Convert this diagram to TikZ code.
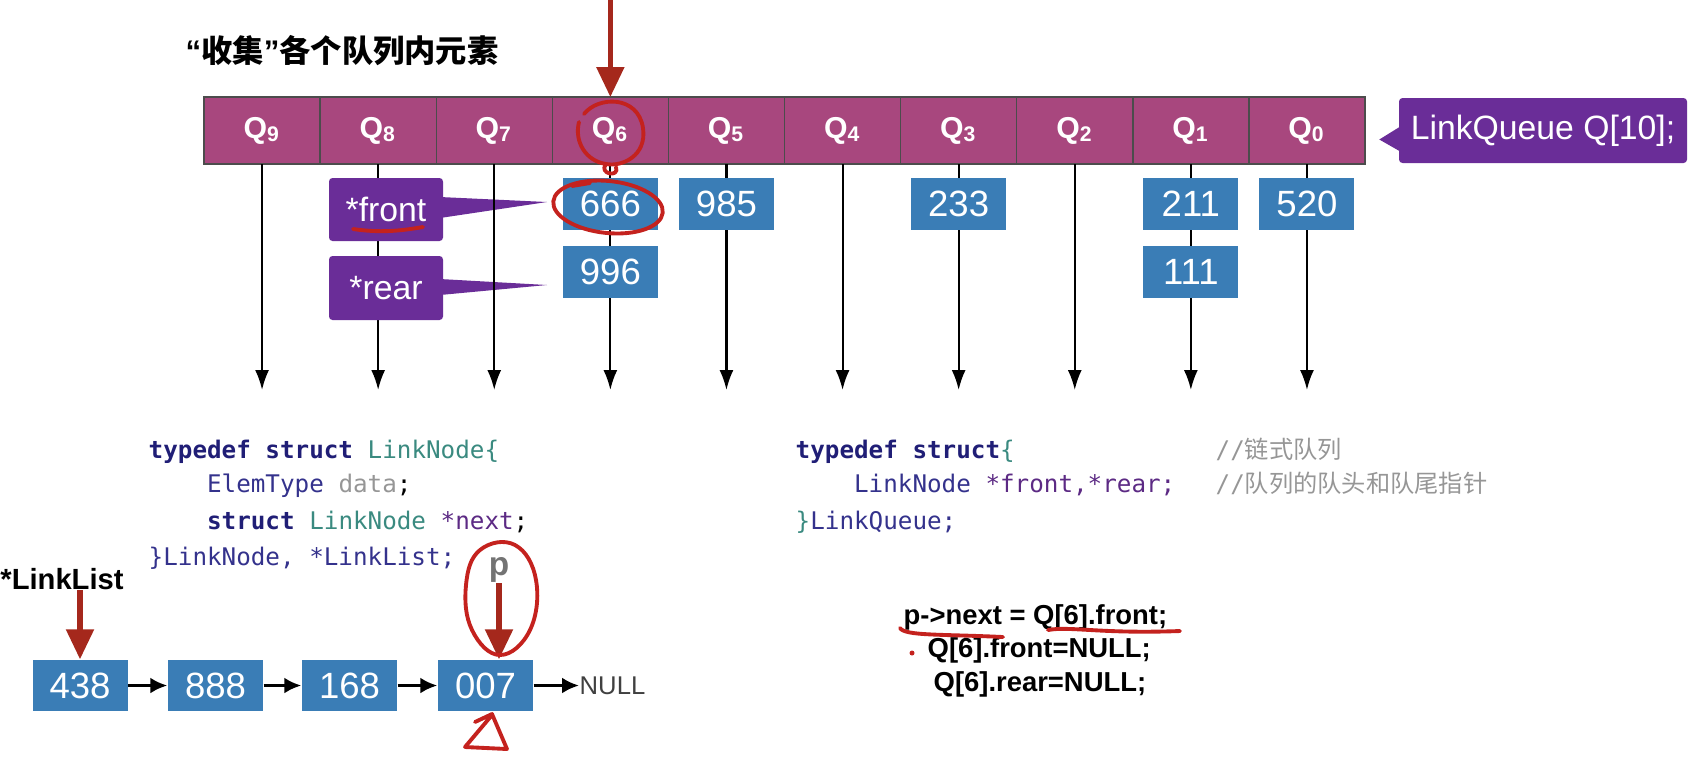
\documentclass[tikz,border=0pt]{standalone}
\usepackage{fontspec}
\setmainfont{Liberation Sans}
\setmonofont{DejaVu Sans Mono}
\newfontfamily\cjk{Noto Sans CJK SC}
\usepackage{tikz}
\usetikzlibrary{arrows.meta, calc}
\definecolor{qmagenta}{RGB}{168,71,126}
\definecolor{qpurple}{RGB}{106,45,152}
\definecolor{qblue}{RGB}{58,125,182}
\definecolor{qred}{RGB}{165,40,28}
\definecolor{penred}{RGB}{196,34,30}
\definecolor{kwnavy}{RGB}{32,30,118}
\definecolor{tyteal}{RGB}{58,138,128}
\definecolor{tyindigo}{RGB}{52,50,140}
\definecolor{varpurple}{RGB}{92,42,132}
\definecolor{cmtgray}{RGB}{150,150,150}
\newcommand{\ind}{\hspace*{2.408em}}

\begin{document}
\begin{tikzpicture}
% Define styles
\tikzset{
  qcell/.style={draw=black!70, fill=qmagenta, text=white, inner sep=0pt, outer sep=0pt,
    minimum width=1.161cm, minimum height=0.67cm, font=\fontsize{8.6}{9}\selectfont\bfseries},
  valbox/.style={fill=qblue, text=white, inner sep=0pt, minimum width=0.95cm,
    minimum height=0.52cm, font=\fontsize{10.4}{11}\selectfont},
  ptrbox/.style={fill=qpurple, text=white, rounded corners=1pt, inner sep=0pt,
    minimum width=1.14cm, minimum height=0.64cm, font=\fontsize{9.6}{10}\selectfont},
  drop/.style={semithick, -{Latex[length=0.2cm, width=0.14cm]}},
  link/.style={line width=0.9pt, -{Latex[length=0.17cm, width=0.16cm]}},
  redarrow/.style={qred, line width=1.5pt, -{Triangle[length=0.3cm, width=0.27cm]}},
  hand/.style={penred, line width=1.1pt, line cap=round, line join=round},
  code/.style={anchor=base west, inner sep=0pt, font=\fontsize{6.9}{8}\selectfont\ttfamily},
  stmt/.style={anchor=west, inner sep=0pt, font=\fontsize{7.8}{8}\selectfont\bfseries},
}

\useasboundingbox (0,0) rectangle (16.9,-7.7);

% Title
\node[anchor=west, inner sep=0pt, font=\fontsize{8.9}{10}\selectfont\bfseries] (title)
  at (1.85,-0.51) {“{\cjk 收集}”{\cjk 各个队列内元素}};

% Queue array, Q9 on the left
\foreach \i in {0,...,9} {
  \pgfmathtruncatemacro\k{9-\i}
  \node[qcell] (q\k) at ({2.04+1.161*(\i+0.5)},-1.305) {Q\textsubscript{\k}};
}
\node[ptrbox, minimum width=2.88cm, minimum height=0.65cm] (lq) at (15.43,-1.305) {LinkQueue Q[10];};
\fill[qpurple] ($(lq.west)+(0.02,0.04)$) -- ($(lq.west)+(-0.19,-0.09)$) -- ($(lq.west)+(0.02,-0.21)$) -- cycle;

% Pointer tails (under the drop lines)
\coordinate (ftip) at (5.47,-2.02);
\coordinate (rtip) at (5.47,-2.85);
\fill[qpurple] (4.40,-1.97) -- (ftip) -- (4.40,-2.18) -- cycle;
\fill[qpurple] (4.40,-2.79) -- (rtip) -- (4.40,-2.95) -- cycle;

% Drop lines
\foreach \k in {0,...,9} {
  \coordinate (e\k) at ($(q\k.south)+(0,-2.26)$);
  \draw[drop] (q\k.south) -- (e\k);
}

% Queue elements
\coordinate (row1) at (0,-2.04);
\coordinate (row2) at (0,-2.715);
\node[valbox] (v666) at (q6 |- row1) {666};
\node[valbox] (v996) at (q6 |- row2) {996};
\node[valbox] (v985) at (q5 |- row1) {985};
\node[valbox] (v233) at (q3 |- row1) {233};
\node[valbox] (v211) at (q1 |- row1) {211};
\node[valbox] (v111) at (q1 |- row2) {111};
\node[valbox] (v520) at (q0 |- row1) {520};

\node[ptrbox, minimum height=0.63cm] (front) at (3.86,-2.095) {*front};
\node[ptrbox] (rear) at (3.86,-2.88) {*rear};

% Code
\node[code] (lc1) at (1.48,-4.58) {\textcolor{kwnavy}{\bfseries typedef struct} \textcolor{tyteal}{LinkNode\{}};
\node[code] (lc2) at (1.48,-4.92) {\ind\textcolor{tyindigo}{ElemType} \textcolor{cmtgray}{data};};
\node[code] (lc3) at (1.48,-5.29) {\ind\textcolor{kwnavy}{\bfseries struct} \textcolor{tyteal}{LinkNode} \textcolor{varpurple}{*next};};
\node[code] (lc4) at (1.48,-5.65) {\textcolor{tyindigo}{\}LinkNode, *LinkList;}};

\node[code] (rc1) at (7.95,-4.58) {\textcolor{kwnavy}{\bfseries typedef struct}\textcolor{tyteal}{\{}};
\node[code] (rc2) at (7.95,-4.92) {\ind\textcolor{tyindigo}{LinkNode} \textcolor{varpurple}{*front,*rear;}};
\node[code] (rc3) at (7.95,-5.29) {\textcolor{tyteal}{\}}\textcolor{tyindigo}{LinkQueue;}};
\node[code, text=cmtgray] (cm1) at (12.15,-4.58) {//{\cjk 链式队列}};
\node[code, text=cmtgray] (cm2) at (12.15,-4.92) {//{\cjk 队列的队头和队尾指针}};

% Linked list
\node[font=\fontsize{8.3}{9}\selectfont\bfseries, inner sep=0pt] (llist) at (0.62,-5.79) {*LinkList};
\foreach \v/\x in {438/0.80, 888/2.155, 168/3.495, 007/4.855}
  \node[valbox, minimum height=0.51cm] (l\v) at (\x,-6.855) {\v};
\node[anchor=west, inner sep=0pt, font=\fontsize{7.3}{8}\selectfont, text=black!75] (null) at (5.79,-6.855) {NULL};
\draw[link] (l438) -- (l888);
\draw[link] (l888) -- (l168);
\draw[link] (l168) -- (l007);
\draw[link] (l007) -- (null);

\node[font=\fontsize{9.5}{10}\selectfont\bfseries, text=black!55, inner sep=0pt] (p) at (4.99,-5.70) {p};

% Red pointers
\path (q6.north) ++(0,0.97) coordinate (qtop);
\draw[redarrow] (qtop) -- (q6.north);
\draw[redarrow] (llist.south -| l438.north) -- (l438.north);
\draw[redarrow] (p.south) -- (p.south |- l007.north);

% Statements
\node[stmt] (s1) at (9.03,-6.17) {p->next = Q[6].front;};
\node[stmt] (s2) at (9.27,-6.50) {Q[6].front=NULL;};
\node[stmt] (s3) at (9.33,-6.84) {Q[6].rear=NULL;};

% Pen marks
\draw[hand] (5.84,-1.14) .. controls (5.98,-0.96) and (6.38,-0.95) .. (6.43,-1.28)
  .. controls (6.47,-1.56) and (6.22,-1.67) .. (6.06,-1.64)
  .. controls (5.86,-1.61) and (5.74,-1.42) .. (5.79,-1.22);
\draw[hand] (6.06,-1.64) .. controls (5.98,-1.74) and (6.20,-1.78) .. (6.16,-1.67);
\draw[hand, rotate around={-6:(6.08,-2.07)}] (6.08,-2.07) ellipse [x radius=0.55, y radius=0.26];
\draw[hand] (5.72,-1.86) -- (5.90,-1.83);
\draw[hand] (3.53,-2.29) .. controls (3.80,-2.33) and (4.00,-2.31) .. (4.23,-2.27);
\draw[hand] plot[smooth cycle, tension=0.7] coordinates {(4.80,-5.50) (5.15,-5.45) (5.36,-5.80) (5.30,-6.30) (5.00,-6.55) (4.72,-6.30) (4.66,-5.85)};
\draw[hand] (4.75,-7.22) -- (4.92,-7.14) -- (5.07,-7.49) -- (4.65,-7.47) -- (4.92,-7.15);
\draw[hand] (9.00,-6.28) .. controls (9.05,-6.36) and (9.40,-6.34) .. (10.03,-6.37);
\draw[hand] (10.48,-6.30) .. controls (10.70,-6.26) and (11.00,-6.34) .. (11.80,-6.31);
\fill[penred] (9.12,-6.53) circle (0.025);
\end{tikzpicture}
\end{document}
